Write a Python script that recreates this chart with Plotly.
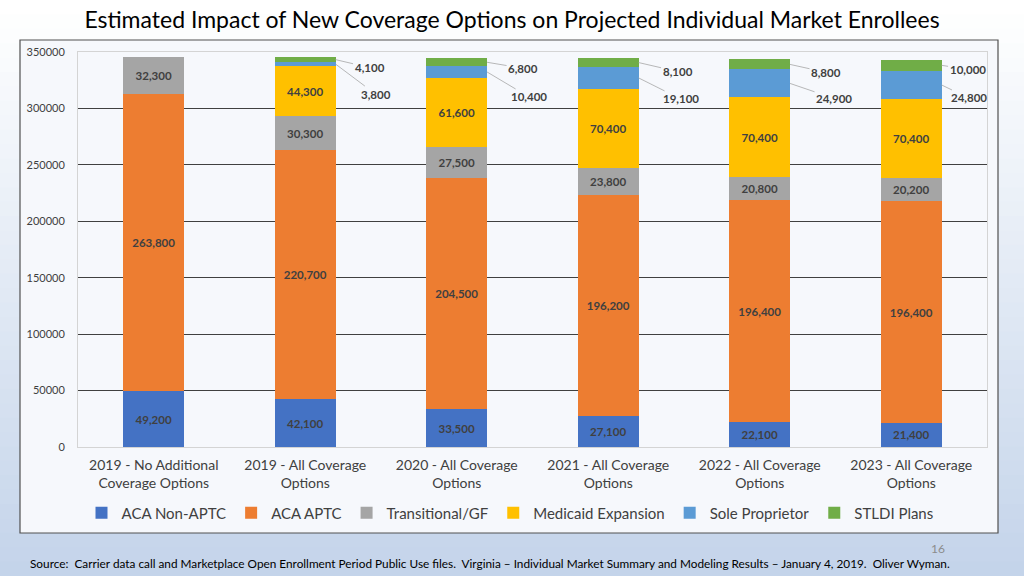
import plotly.graph_objects as go

categories = ["2019 - No Additional<br>Coverage Options", "2019 - All Coverage<br>Options",
              "2020 - All Coverage<br>Options", "2021 - All Coverage<br>Options",
              "2022 - All Coverage<br>Options", "2023 - All Coverage<br>Options"]
aca_non_aptc = [49200, 42100, 33500, 27100, 22100, 21400]
aca_aptc = [263800, 220700, 204500, 196200, 196400, 196400]
transitional = [32300, 30300, 27500, 23800, 20800, 20200]
medicaid = [None, 44300, 61600, 70400, 70400, 70400]
sole_prop = [None, 3800, 10400, 19100, 24900, 24800]
stldi = [None, 4100, 6800, 8100, 8800, 10000]
y_ticks = [0, 50000, 100000, 150000, 200000, 250000, 300000, 350000]

FONT = "Lato, Carlito, Liberation Sans, sans-serif"
TXT = "#404040"
xs = list(range(len(categories)))

fig = go.Figure()
series = [
    ("ACA Non-APTC", aca_non_aptc, "#4472C4", True),
    ("ACA APTC", aca_aptc, "#ED7D31", True),
    ("Transitional/GF", transitional, "#A5A5A5", True),
    ("Medicaid Expansion", medicaid, "#FFC000", True),
    ("Sole Proprietor", sole_prop, "#5B9BD5", False),
    ("STLDI Plans", stldi, "#70AD47", False),
]
for name, vals, col, inside in series:
    fig.add_trace(go.Bar(
        x=xs, y=vals, name=name, marker=dict(color=col, line=dict(width=0)),
        width=0.4,
        texttemplate="<b>%{y:,}</b>" if inside else None,
        textposition="inside" if inside else "none",
        insidetextanchor="middle", textangle=0, constraintext="none",
        textfont=dict(family=FONT, size=11.5, color=TXT),
        hoverinfo="skip",
    ))

# leader-line labels for small segments
offsets_stldi = [None, (34, 8), (36, 6), (39, 9), (36, 8), (26, 4)]
offsets_sole = [None, (40, 30), (42, 25), (42, 21), (44, 15), (27, 13)]
for i in xs:
    if stldi[i] is None:
        continue
    base = aca_non_aptc[i] + aca_aptc[i] + transitional[i] + medicaid[i]
    sole_mid = base + sole_prop[i] / 2
    stldi_mid = base + sole_prop[i] + stldi[i] / 2
    for val, mid, off in [(stldi[i], stldi_mid, offsets_stldi[i]), (sole_prop[i], sole_mid, offsets_sole[i])]:
        fig.add_annotation(x=i + 0.2, y=mid, xref="x", yref="y",
                           text="<b>{:,}</b>".format(val), showarrow=True, arrowhead=0,
                           arrowwidth=0.8, arrowcolor="#a6a6a6", ax=off[0], ay=off[1],
                           font=dict(family=FONT, size=11.5, color=TXT), standoff=0, startstandoff=0)

# background gradient bands
W, H = 1024, 576
L, R, T, B = 78, 37, 52, 129
pw, ph = W - L - R, H - T - B
def px2x(px): return (px - L) / pw
def py2y(py): return (H - B - py) / ph

shapes = []
n = 40
top = (255, 255, 255)
bot = (196, 212, 234)
for k in range(n):
    f = k / (n - 1)
    c = tuple(int(round(top[j] + (bot[j] - top[j]) * f)) for j in range(3))
    y0 = k * H / n
    y1 = (k + 1) * H / n + 1
    shapes.append(dict(type="rect", xref="paper", yref="paper", layer="below",
                       x0=px2x(0), x1=px2x(W), y0=py2y(y1), y1=py2y(y0),
                       fillcolor="rgb(%d,%d,%d)" % c, line=dict(width=0)))
shapes.append(dict(type="rect", xref="paper", yref="paper", layer="below",
                   x0=px2x(20), x1=px2x(998), y0=py2y(533), y1=py2y(40),
                   fillcolor="#f6f8fc", line=dict(color="#505050", width=1.2)))

fig.update_layout(
    width=W, height=H,
    margin=dict(l=L, r=R, t=T, b=B, autoexpand=False),
    paper_bgcolor="#ffffff", plot_bgcolor="rgba(0,0,0,0)",
    barmode="stack", bargap=0.6,
    shapes=shapes,
    title=dict(text="Estimated Impact of New Coverage Options on Projected Individual Market Enrollees",
               x=0.5, xref="container", xanchor="center", y=1 - 20 / H, yanchor="middle",
               font=dict(family=FONT, size=23, color="#000000")),
    font=dict(family=FONT, color=TXT),
    showlegend=True,
    legend=dict(orientation="h", xref="paper", x=px2x(510), xanchor="center",
                yref="paper", y=py2y(513), yanchor="middle",
                font=dict(family=FONT, size=15, color=TXT),
                bgcolor="rgba(0,0,0,0)", traceorder="normal"),
    xaxis=dict(tickvals=xs, ticktext=categories, range=[-0.5, 5.5], tickangle=0, automargin=False,
               tickfont=dict(family=FONT, size=14, color=TXT), showgrid=False,
               showline=True, linecolor="#d4d4d4", linewidth=1, mirror=True,
               ticks="outside", ticklen=5, tickcolor="rgba(0,0,0,0)", zeroline=False),
    yaxis=dict(range=[0, 350000], tickvals=y_ticks, tickformat="d", automargin=False,
               tickfont=dict(family=FONT, size=11, color=TXT),
               showgrid=True, gridcolor="#404040", gridwidth=1,
               showline=True, linecolor="#d4d4d4", linewidth=1, mirror=True,
               zeroline=False, ticks="outside", ticklen=10, tickcolor="rgba(0,0,0,0)"),
)

fig.add_annotation(xref="paper", yref="paper", x=px2x(28), y=py2y(563), xanchor="left", yanchor="middle",
                   showarrow=False, font=dict(family=FONT, size=11.8, color="#000000"),
                   text="Source:  Carrier data call and Marketplace Open Enrollment Period Public Use files.  Virginia \u2013 Individual Market Summary and Modeling Results \u2013 January 4, 2019.  Oliver Wyman.")
fig.add_annotation(xref="paper", yref="paper", x=px2x(938), y=py2y(548), xanchor="center", yanchor="middle",
                   showarrow=False, font=dict(family=FONT, size=12, color="#8c8c8c"), text="16")

fig.write_html("out.html", config={"displayModeBar": False},
               post_script="document.body.style.margin='0';document.body.style.overflow='hidden';")
